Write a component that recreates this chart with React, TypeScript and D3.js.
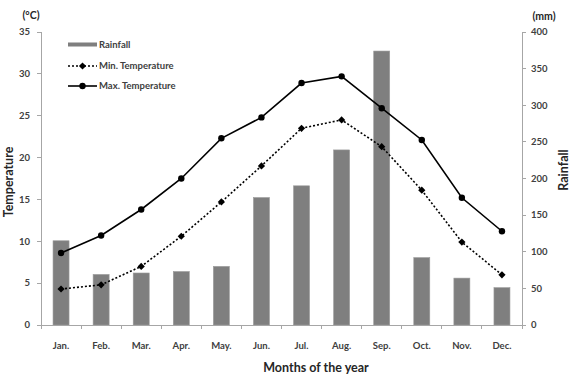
import React, { useEffect, useRef } from 'react';
import * as d3 from 'd3';

const months = ['Jan.', 'Feb.', 'Mar.', 'Apr.', 'May.', 'Jun.', 'Jul.', 'Aug.', 'Sep.', 'Oct.', 'Nov.', 'Dec.'];
const rainfall = [115, 69, 71, 73, 80, 174, 190, 239, 374, 92, 64, 51];
const minTemp = [4.3, 4.8, 7.0, 10.6, 14.7, 19.0, 23.5, 24.5, 21.3, 16.1, 9.9, 6.0];
const maxTemp = [8.6, 10.7, 13.8, 17.5, 22.3, 24.8, 28.9, 29.7, 25.9, 22.1, 15.2, 11.2];
const tempTicks = [0, 5, 10, 15, 20, 25, 30, 35];
const rainTicks = [0, 50, 100, 150, 200, 250, 300, 350, 400];

const W = 572;
const H = 382;
const FONT = 'Lato, "Open Sans", sans-serif';

const App: React.FC = () => {
  const svgRef = useRef<SVGSVGElement>(null);

  useEffect(() => {
    if (!svgRef.current) return;
    const svg = d3.select(svgRef.current);
    svg.selectAll('*').remove();

    const left = 41, right = 522, top = 32, bottom = 325;

    const x = d3.scaleBand().domain(months).range([left, right]);
    const yT = d3.scaleLinear().domain([0, 35]).range([bottom, top]);
    const yR = d3.scaleLinear().domain([0, 400]).range([bottom, top]);
    const cx = (i: number) => (x(months[i]) as number) + x.bandwidth() / 2;

    // bars
    const barW = 16;
    svg.append('g')
      .selectAll('rect')
      .data(rainfall)
      .enter()
      .append('rect')
      .attr('x', (_, i) => cx(i) - barW / 2)
      .attr('y', d => yR(d))
      .attr('width', barW)
      .attr('height', d => bottom - yR(d))
      .attr('fill', '#7f7f7f')
      .attr('stroke', '#9a9a9a')
      .attr('stroke-width', 0.6);

    // axes
    const axisColor = '#a6a6a6';
    const ax = svg.append('g').attr('stroke', axisColor).attr('stroke-width', 1).attr('shape-rendering', 'crispEdges');
    ax.append('line').attr('x1', left).attr('x2', left).attr('y1', top).attr('y2', bottom);
    ax.append('line').attr('x1', right).attr('x2', right).attr('y1', top).attr('y2', bottom);
    ax.append('line').attr('x1', left).attr('x2', right).attr('y1', bottom).attr('y2', bottom);
    tempTicks.forEach(t => {
      ax.append('line').attr('x1', left - 4).attr('x2', left).attr('y1', yT(t)).attr('y2', yT(t));
    });
    rainTicks.forEach(t => {
      ax.append('line').attr('x1', right).attr('x2', right + 4).attr('y1', yR(t)).attr('y2', yR(t));
    });
    months.forEach((m, i) => {
      const xx = x(m) as number;
      ax.append('line').attr('x1', xx).attr('x2', xx).attr('y1', bottom).attr('y2', bottom + 4);
      if (i === months.length - 1) {
        ax.append('line').attr('x1', xx + x.bandwidth()).attr('x2', xx + x.bandwidth()).attr('y1', bottom).attr('y2', bottom + 4);
      }
    });

    const textColor = '#404040';
    const tl = svg.append('g').attr('font-family', FONT).attr('font-size', 9.5).attr('font-weight', 'bold').attr('fill', textColor);
    tempTicks.forEach(t => {
      tl.append('text').attr('x', 30).attr('y', yT(t)).attr('dy', '0.35em').attr('text-anchor', 'end').text(t);
    });
    rainTicks.forEach(t => {
      tl.append('text').attr('x', 531).attr('y', yR(t)).attr('dy', '0.35em').attr('text-anchor', 'start').text(t);
    });
    months.forEach((m, i) => {
      tl.append('text').attr('x', cx(i)).attr('y', 346).attr('dy', '0.35em').attr('text-anchor', 'middle').text(m);
    });

    // axis titles
    const tt = svg.append('g').attr('font-family', FONT).attr('font-weight', 'bold').attr('fill', '#262626');
    tt.append('text').attr('x', 316).attr('y', 368).attr('dy', '0.35em').attr('text-anchor', 'middle').attr('font-size', 12.5).text('Months of the year');
    tt.append('text').attr('transform', `translate(9,182) rotate(-90)`).attr('dy', '0.35em').attr('text-anchor', 'middle').attr('font-size', 12.5).text('Temperature');
    tt.append('text').attr('transform', `translate(564,170) rotate(-90)`).attr('dy', '0.35em').attr('text-anchor', 'middle').attr('font-size', 12.5).text('Rainfall');
    tt.append('text').attr('x', 31).attr('y', 15).attr('dy', '0.35em').attr('text-anchor', 'middle').attr('font-size', 10.5).text('(°C)');
    tt.append('text').attr('x', 544).attr('y', 16).attr('dy', '0.35em').attr('text-anchor', 'middle').attr('font-size', 10.5).text('(mm)');

    // lines
    const line = d3.line<number>().x((_, i) => cx(i)).y(d => yT(d));
    svg.append('path').attr('d', line(minTemp)).attr('fill', 'none').attr('stroke', '#000').attr('stroke-width', 1.6).attr('stroke-dasharray', '2,2');
    svg.append('path').attr('d', line(maxTemp)).attr('fill', 'none').attr('stroke', '#000').attr('stroke-width', 1.6);

    const diamond = d3.symbol().type(d3.symbolSquare).size(26);
    svg.append('g').selectAll('path').data(minTemp).enter().append('path')
      .attr('d', diamond as any)
      .attr('transform', (d, i) => `translate(${cx(i)},${yT(d)}) rotate(45)`)
      .attr('fill', '#000');
    svg.append('g').selectAll('circle').data(maxTemp).enter().append('circle')
      .attr('cx', (_, i) => cx(i)).attr('cy', d => yT(d)).attr('r', 3.2).attr('fill', '#000');

    // legend
    const lg = svg.append('g').attr('font-family', FONT).attr('font-size', 9.5).attr('font-weight', 'bold').attr('fill', textColor);
    lg.append('rect').attr('x', 68).attr('y', 42.5).attr('width', 29).attr('height', 4).attr('fill', '#7f7f7f');
    lg.append('text').attr('x', 99).attr('y', 45).attr('dy', '0.35em').text('Rainfall');
    lg.append('line').attr('x1', 68).attr('x2', 97).attr('y1', 66).attr('y2', 66).attr('stroke', '#000').attr('stroke-width', 1.6).attr('stroke-dasharray', '2,2');
    lg.append('path').attr('d', diamond as any).attr('transform', 'translate(82.5,66) rotate(45)').attr('fill', '#000');
    lg.append('text').attr('x', 99).attr('y', 66).attr('dy', '0.35em').text('Min. Temperature');
    lg.append('line').attr('x1', 68).attr('x2', 97).attr('y1', 86).attr('y2', 86).attr('stroke', '#000').attr('stroke-width', 1.6);
    lg.append('circle').attr('cx', 82.5).attr('cy', 86).attr('r', 3.2).attr('fill', '#000');
    lg.append('text').attr('x', 99).attr('y', 86).attr('dy', '0.35em').text('Max. Temperature');
  }, []);

  return (
    <svg
      ref={svgRef}
      width={W}
      height={H}
      viewBox={`0 0 ${W} ${H}`}
      style={{ position: 'absolute', left: 0, top: 0, background: '#fff' }}
    />
  );
};

export default App;
